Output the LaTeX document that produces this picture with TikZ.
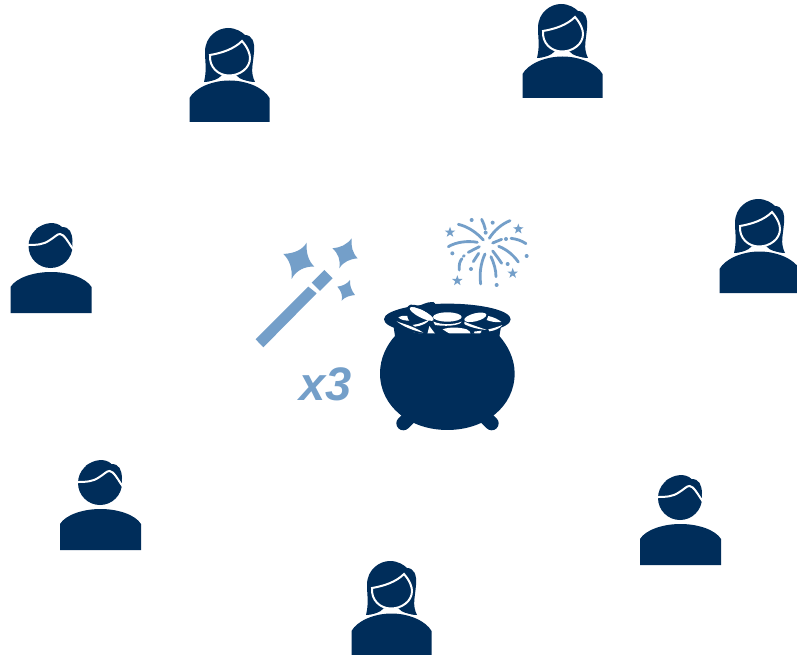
\documentclass[tikz,border=0pt]{standalone}
\usepackage{fontspec}
\setmainfont{Liberation Sans}
\definecolor{navy}{HTML}{002D5A}
\definecolor{sky}{HTML}{749FC9}
\tikzset{
  woman/.pic={
    \fill[navy] (24,62) .. controls (27,50) and (25,42) .. (25,32) .. controls (25,16) and (38,8) .. (48,8)
      .. controls (56,8) and (62,12) .. (65,15) .. controls (72,15) and (75,22) .. (74,32)
      .. controls (73,45) and (70,52) .. (75,62) .. controls (68,62) and (60,60) .. (56,55) -- (42,55) .. controls (38,60) and (30,62) .. (24,62) -- cycle;
    \fill[navy,draw=white,line width=2pt] (30,35) .. controls (42,33) and (54,29) .. (62,21)
      .. controls (68,28) and (70,34) .. (70,38) .. controls (70,48) and (60,55.5) .. (49,55.5)
      .. controls (38,55.5) and (29,47) .. (30,35) -- cycle;
    \draw[white,line width=2pt] (9.5,78) .. controls (15,67) and (32,59.5) .. (49.5,59.5)
      .. controls (67,59.5) and (84,67) .. (89.5,78);
    \fill[navy] (9.5,102) -- (9.5,78) .. controls (15,68) and (32,60.5) .. (49.5,60.5)
      .. controls (67,60.5) and (84,68) .. (89.5,78) -- (89.5,102) -- cycle;
  },
  man/.pic={
    \fill[navy] (50.5,31) circle[radius=22];
    \fill[navy] (36,14) .. controls (45,7) and (56,6) .. (62,12) .. controls (70,12) and (72,18) .. (72.5,26) -- (70,40) -- (45,25) -- cycle;
    \draw[white,line width=2pt] (28,30) .. controls (36,30) and (43,30) .. (50,25) .. controls (55,22) and (57,19) .. (60,19) .. controls (64,19) and (68,27) .. (73,34);
    \fill[navy] (10.5,98) -- (10.5,72) .. controls (16,63) and (33,57) .. (51,57) .. controls (69,57) and (86,63) .. (91.5,72) -- (91.5,98) -- cycle;
  },
  burst/.style={line width=2.8pt,draw=sky,line cap=round},
  burststar/.pic={
    \fill[sky] (-90:5.5) -- (-126:2.2) -- (-162:5.5) -- (-198:2.2) -- (-234:5.5) -- (-270:2.2) -- (-306:5.5) -- (-342:2.2) -- (-18:5.5) -- (-54:2.2) -- cycle;
  }
}
\begin{document}
\begin{tikzpicture}[x=1pt,y=-1pt]
\useasboundingbox (0,0) rectangle (797,655);
\fill[white] (0,0) rectangle (797,655);
\begin{scope}
\clip (0,0) rectangle (797,655);
\pic at (180,20) {woman};
\pic at (513,-4) {woman};
\pic at (710,191) {woman};
\pic at (342,553) {woman};
\pic at (0,215) {man};
\pic at (49.5,452) {man};
\pic at (629.5,467) {man};
\end{scope}
\pic at (450,232.3) {burststar};
\pic at (518.3,229) {burststar};
\pic at (512.7,273.3) {burststar};
\pic at (457.3,280.7) {burststar};
% pot
\begin{scope}[shift={(370,210)},x=0.3333pt,y=-0.3333pt]
\draw[navy,line width=14pt,line cap=round] (100,640) -- (125,615);
\draw[navy,line width=14pt,line cap=round] (365,640) -- (340,615);
\fill[navy] (232,328) ellipse[x radius=190,y radius=47];
\fill[navy] (70,345) .. controls (110,362) and (135,370) .. (160,372) -- (75,378) -- cycle;
\fill[navy] (394,345) .. controls (355,362) and (330,370) .. (305,372) -- (388,378) -- cycle;
\draw[navy,fill=white,line width=2.5pt,rotate around={-27:(155,310)}] (155,310) ellipse[x radius=42,y radius=13];
\fill[navy] (130,300) .. controls (150,285) and (170,275) .. (190,276) .. controls (198,280) and (196,288) .. (190,292) .. controls (170,288) and (150,292) .. (130,310) -- cycle;
\fill[white,rotate around={-27:(155,312)}] (155,312) ellipse[x radius=40,y radius=11];
\fill[white] (232,321) ellipse[x radius=43,y radius=14];
\fill[white,rotate around={14:(316,322)}] (316,322) ellipse[x radius=34,y radius=12];
\fill[white] (85,322) .. controls (95,317) and (105,316) .. (112,318) .. controls (112,326) and (115,330) .. (118,332) .. controls (105,332) and (92,330) .. (85,322) -- cycle;
\fill[white] (80,334) .. controls (100,350) and (130,362) .. (160,368) .. controls (130,348) and (100,342) .. (80,334) -- cycle;
\fill[white] (128,345) .. controls (150,342) and (165,335) .. (178,328) .. controls (175,338) and (155,348) .. (135,350) -- cycle;
\fill[white] (190,335) .. controls (215,345) and (250,345) .. (275,335) .. controls (275,342) and (245,352) .. (195,345) -- cycle;
\fill[white] (218,358) .. controls (240,350) and (270,352) .. (290,358) .. controls (298,362) and (302,366) .. (302,372) -- (240,372) -- cycle;
\fill[white] (283,335) .. controls (305,345) and (330,352) .. (350,360) .. controls (325,358) and (295,350) .. (283,342) -- cycle;
\fill[white] (172,372) -- (178,348) -- (196,372) -- cycle;
\fill[white] (355,358) .. controls (370,355) and (385,350) .. (397,345) .. controls (390,355) and (375,362) .. (358,364) -- cycle;
\fill[white] (355,318) .. controls (372,322) and (385,328) .. (394,336) .. controls (378,338) and (362,335) .. (350,330) -- cycle;
\fill[white] (312,365) -- (335,362) -- (330,372) -- (314,372) -- cycle;
\fill[navy] (75,378) .. controls (50,405) and (30,445) .. (30,490) .. controls (30,590) and (120,660) .. (232,660)
  .. controls (345,660) and (434,590) .. (434,490) .. controls (434,445) and (412,405) .. (388,378)
  -- (388,370) -- (75,370) -- cycle;
% fireworks
\draw[burst] (265,43) .. controls (295,50) and (320,68) .. (340,90);
\draw[burst] (335,28) .. controls (340,38) and (344,48) .. (346,58);
\draw[burst] (420,32) .. controls (395,42) and (372,62) .. (358,85);
\draw[burst] (235,110) .. controls (260,95) and (295,92) .. (322,97);
\draw[burst] (368,99) -- (395,88);
\draw[burst] (423,85) .. controls (440,87) and (455,92) .. (468,101);
\draw[burst] (328,110) -- (295,127);
\draw[burst] (283,137) -- (280,139);
\draw[burst] (268,180) .. controls (266,165) and (270,152) .. (276,146);
\draw[burst] (326,130) -- (310,155);
\draw[burst] (345,132) .. controls (332,160) and (328,190) .. (332,222);
\draw[burst] (363,140) .. controls (372,160) and (378,180) .. (378,200);
\draw[burst] (368,123) .. controls (378,135) and (387,148) .. (395,160);
\draw[burst] (386,109) .. controls (410,118) and (430,135) .. (445,156);
\foreach \p in {(305,30),(368,38),(347,68),(408,87),(247,130),(470,138),(303,177),(413,162),(380,225)}
  \fill[sky] \p circle[radius=6];
\end{scope}
% wand
\begin{scope}[shift={(245,230)},x=0.3333pt,y=-0.3333pt]
\fill[sky] (32,328) -- (55,352) -- (215,190) -- (190,170) -- cycle;
\fill[sky] (200,158) -- (238,120) -- (263,145) -- (225,183) -- cycle;
\fill[sky] (115,72) .. controls (148,70) and (172,60) .. (185,38) .. controls (183,68) and (190,93) .. (208,110) .. controls (180,108) and (152,122) .. (140,147) .. controls (142,115) and (134,90) .. (115,72) -- cycle;
\fill[sky] (262,55) .. controls (285,53) and (305,45) .. (320,25) .. controls (318,50) and (322,68) .. (338,85) .. controls (315,87) and (295,95) .. (283,115) .. controls (287,90) and (280,70) .. (262,55) -- cycle;
\fill[sky] (277,170) .. controls (292,168) and (305,163) .. (315,150) .. controls (314,165) and (318,180) .. (330,195) .. controls (315,197) and (300,200) .. (290,212) .. controls (294,197) and (288,182) .. (277,170) -- cycle;
\end{scope}
\node[font=\fontsize{47}{47}\selectfont\bfseries\itshape,text=sky,inner sep=0pt,anchor=base west] (label) at (299.5,400) {x3};
\end{tikzpicture}
\end{document}
